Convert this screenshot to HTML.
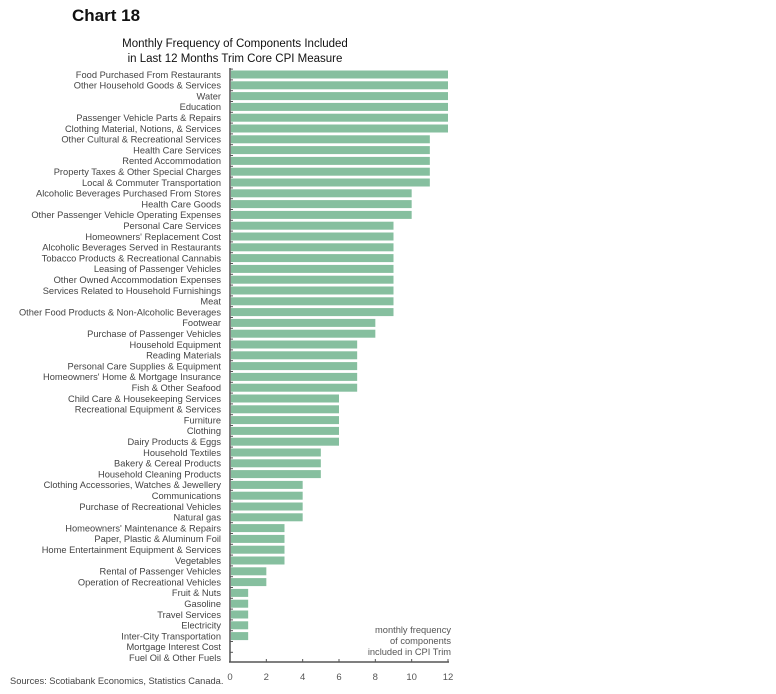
<!DOCTYPE html>
<html><head><meta charset="utf-8"><style>
body{margin:0;background:#fff;}
svg{display:block;font-family:"Liberation Sans",sans-serif;}
</style></head><body>
<svg width="776" height="694" xmlns="http://www.w3.org/2000/svg">
<text x="72" y="21" font-size="17" font-weight="bold" fill="#111">Chart 18</text>
<text x="235" y="47" font-size="11.5" text-anchor="middle" fill="#111">Monthly Frequency of Components Included</text>
<text x="235" y="62" font-size="11.5" text-anchor="middle" fill="#111">in Last 12 Months Trim Core CPI Measure</text>
<g id="rows" font-size="9.3" fill="#444" text-anchor="end"></g>
<g stroke="#555" stroke-width="1.5">
<line x1="230" y1="68" x2="230" y2="662"/>
<line x1="229" y1="662" x2="449" y2="662"/>
</g>
<g id="xt" font-size="9.5" fill="#555" text-anchor="middle"></g>
<text x="451" y="633" font-size="9.3" fill="#555" text-anchor="end">monthly frequency</text>
<text x="451" y="644" font-size="9.3" fill="#555" text-anchor="end">of components</text>
<text x="451" y="655" font-size="9.3" fill="#555" text-anchor="end">included in CPI Trim</text>
<text x="10" y="684" font-size="9.3" fill="#444">Sources: Scotiabank Economics, Statistics Canada.</text>
<script>
var d=[["Food Purchased From Restaurants",12],["Other Household Goods & Services",12],["Water",12],["Education",12],["Passenger Vehicle Parts & Repairs",12],["Clothing Material, Notions, & Services",12],["Other Cultural & Recreational Services",11],["Health Care Services",11],["Rented Accommodation",11],["Property Taxes & Other Special Charges",11],["Local & Commuter Transportation",11],["Alcoholic Beverages Purchased From Stores",10],["Health Care Goods",10],["Other Passenger Vehicle Operating Expenses",10],["Personal Care Services",9],["Homeowners' Replacement Cost",9],["Alcoholic Beverages Served in Restaurants",9],["Tobacco Products & Recreational Cannabis",9],["Leasing of Passenger Vehicles",9],["Other Owned Accommodation Expenses",9],["Services Related to Household Furnishings",9],["Meat",9],["Other Food Products & Non-Alcoholic Beverages",9],["Footwear",8],["Purchase of Passenger Vehicles",8],["Household Equipment",7],["Reading Materials",7],["Personal Care Supplies & Equipment",7],["Homeowners' Home & Mortgage Insurance",7],["Fish & Other Seafood",7],["Child Care & Housekeeping Services",6],["Recreational Equipment & Services",6],["Furniture",6],["Clothing",6],["Dairy Products & Eggs",6],["Household Textiles",5],["Bakery & Cereal Products",5],["Household Cleaning Products",5],["Clothing Accessories, Watches & Jewellery",4],["Communications",4],["Purchase of Recreational Vehicles",4],["Natural gas",4],["Homeowners' Maintenance & Repairs",3],["Paper, Plastic & Aluminum Foil",3],["Home Entertainment Equipment & Services",3],["Vegetables",3],["Rental of Passenger Vehicles",2],["Operation of Recreational Vehicles",2],["Fruit & Nuts",1],["Gasoline",1],["Travel Services",1],["Electricity",1],["Inter-City Transportation",1],["Mortgage Interest Cost",0],["Fuel Oil & Other Fuels",0]];
var ns="http://www.w3.org/2000/svg",g=document.getElementById("rows"),s=document.querySelector("svg");
function el(n,a,p){var e=document.createElementNS(ns,n);for(var k in a)e.setAttribute(k,a[k]);(p||s).appendChild(e);return e;}
var u=218/12;
d.forEach(function(r,i){var c=74.5+i*10.8;
var t=el("text",{x:221,y:c+3.3},g);t.textContent=r[0];
if(r[1])el("rect",{x:231,y:c-4,width:r[1]*u-1,height:8,fill:"#86bf9f"});
el("line",{x1:230,y1:c-5.4,x2:233,y2:c-5.4,stroke:"#555","stroke-width":1});
});
var xt=document.getElementById("xt");
for(var k=0;k<=12;k+=2){var x=230+k*u;el("line",{x1:x,y1:659,x2:x,y2:662,stroke:"#555","stroke-width":1});var t=el("text",{x:x,y:680},xt);t.textContent=k;}
</script>
</svg>
</body></html>
